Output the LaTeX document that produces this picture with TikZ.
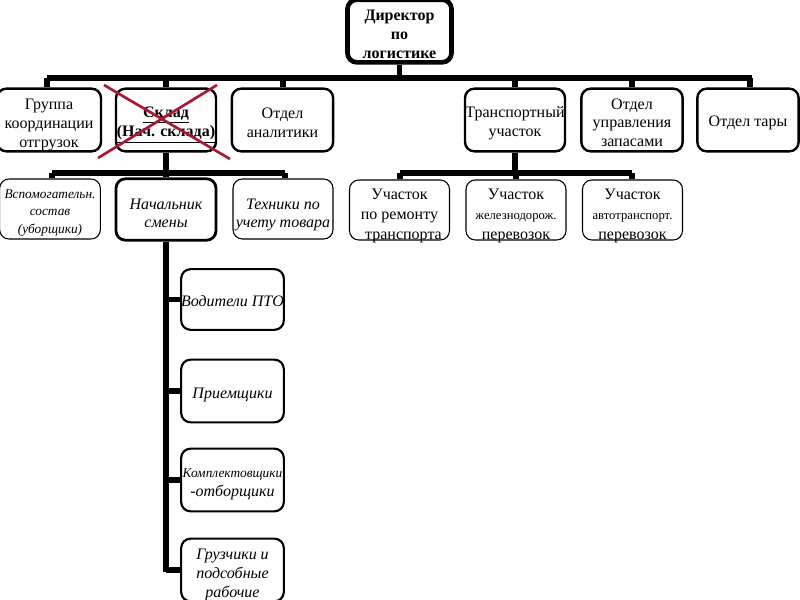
\documentclass[tikz,border=0pt]{standalone}
\usepackage{fontspec}
\setmainfont{Liberation Serif}
\definecolor{crossred}{RGB}{168,24,52}
\begin{document}
\begin{tikzpicture}[x=0.75pt,y=-0.75pt,
 box/.style={draw, rounded corners=7pt, line width=1.8pt, inner sep=0pt,
   minimum width=75pt, minimum height=47pt},
 thinbox/.style={box, line width=0.8pt, minimum height=45pt},
 colbox/.style={box, line width=1.6pt, minimum width=77pt, minimum height=47pt},
 txt/.style={align=center, inner sep=0pt, font=\fontsize{12}{14}\selectfont},
 itxt/.style={txt, font=\fontsize{12}{14}\itshape\selectfont},
 conn/.style={line width=3.8pt},
 cross/.style={draw=crossred, line width=2pt}]
\useasboundingbox (0,0) rectangle (800,600);
% director
\node[box, line width=3.5pt, minimum width=78pt, minimum height=47pt] (dir) at (399.5,31) {};
\node[txt, font=\fontsize{12}{14}\bfseries\selectfont] (dirT) at ([yshift=-2.6pt]dir.center) {Директор\\по\\логистике};
% row 1
\node[box, minimum width=78pt] (grp) at (49,120) {};
\node[txt] (grpT) at ([yshift=-3.75pt]grp.center) {Группа\\координации\\отгрузок};
\node[box] (sk) at (166,120) {};
\node[txt, font=\fontsize{12}{14}\bfseries\selectfont] (skT) at ([yshift=-3.75pt]sk.center) {\underline{Склад}\\\underline{(Нач. склада)}};
\node[box, minimum width=76pt] (an) at (282.5,120) {};
\node[txt] (anT) at ([yshift=-2.25pt]an.center) {Отдел\\аналитики};
\node[box] (tr) at (515,120) {};
\node[txt] (trT) at ([yshift=-2.25pt]tr.center) {Транспортный\\участок};
\node[box, minimum width=76pt] (zap) at (632,120) {};
\node[txt] (zapT) at ([yshift=-1.9pt]zap.center) {Отдел\\управления\\запасами};
\node[box, minimum width=76pt] (tara) at (748,120) {};
\node[txt] (taraT) at ([yshift=-2.25pt]tara.center) {Отдел тары};
% row 2 left
\node[thinbox, minimum width=75.5pt] (vsp) at (50,209) {};
\node[txt, font=\fontsize{10}{13}\itshape\selectfont] (vspT) at ([yshift=-3pt]vsp.center) {Вспомогательн.\\состав\\(уборщики)};
\node[box, line width=2.1pt, minimum height=46pt] (nach) at (166,209.5) {};
\node[itxt] (nachT) at ([yshift=-3pt]nach.center) {Начальник\\смены};
\node[thinbox] (tech) at (283,209) {};
\node[itxt] (techT) at ([yshift=-4.5pt]tech.center) {Техники по\\учету товара};
% row 2 right
\node[thinbox] (rem) at (399.5,210) {};
\node[txt, font=\fontsize{12}{15}\selectfont] (remT) at ([yshift=-4.5pt]rem.center) {Участок\\по ремонту\\\ \ транспорта};
\node[thinbox] (zd) at (516,210) {};
\node[txt, font=\fontsize{12}{15}\selectfont] (zdT) at ([yshift=-4.5pt]zd.center) {Участок\\{\fontsize{9.5}{15}\selectfont железнодорож.}\\перевозок};
\node[thinbox] (avto) at (632.5,210) {};
\node[txt, font=\fontsize{12}{15}\selectfont] (avtoT) at ([yshift=-4.5pt]avto.center) {Участок\\{\fontsize{9.5}{15}\selectfont автотранспорт.}\\перевозок};
% column
\node[colbox, minimum height=45.5pt] (vod) at (232.5,299.5) {};
\node[itxt] (vodT) at ([yshift=-1.5pt]vod.center) {Водители ПТО};
\node[colbox] (pri) at (232.5,391) {};
\node[itxt] (priT) at ([yshift=-3pt]pri.center) {Приемщики};
\node[colbox] (kom) at (232.5,480) {};
\node[itxt] (komT) at ([yshift=-3.4pt]kom.center) {{\fontsize{10}{14}\selectfont Комплектовщики}\\-отборщики};
\node[colbox] (gru) at (232.5,570) {};
\node[itxt] (gruT) at ([yshift=-3.75pt]gru.center) {Грузчики и\\подсобные\\рабочие};
% cross
\draw[cross] (104,85) -- (230,159);
\draw[cross] (217,85) -- (98,158);
% connectors
\coordinate (b1L) at (47,78);
\coordinate (b1R) at (752,78);
\draw[conn] (b1L) -- (b1R);
\draw[conn] (dir.south) -- (dir.south |- b1L);
\foreach \n/\xx in {grp/47, sk/166, an/283, tr/515, zap/632, tara/750}
  \draw[conn] (\xx,78) -- (\n.north -| {(\xx,0)});
\coordinate (b2L) at (52,173);
\coordinate (b2R) at (285,173);
\draw[conn] (b2L) -- (b2R);
\draw[conn] (sk.south) -- (sk.south |- b2L);
\draw[conn] (b2L) -- (b2L |- vsp.north);
\draw[conn] (nach.north |- b2L) -- (nach.north);
\draw[conn] (b2R) -- (b2R |- tech.north);
\coordinate (b3L) at (400,173);
\coordinate (b3R) at (632,173);
\draw[conn] (b3L) -- (b3R);
\draw[conn] (tr.south) -- (tr.south |- b3L);
\draw[conn] (b3L) -- (b3L |- rem.north);
\draw[conn] (zd.north |- b3L) -- (zd.north);
\draw[conn] (b3R) -- (b3R |- avto.north);
\coordinate (colEnd) at (166,572);
\draw[conn] (nach.south) -- (colEnd);
\foreach \n in {vod, pri, kom, gru}
  \draw[conn] (nach.south |- \n.west) -- (\n.west);
\end{tikzpicture}
\end{document}
